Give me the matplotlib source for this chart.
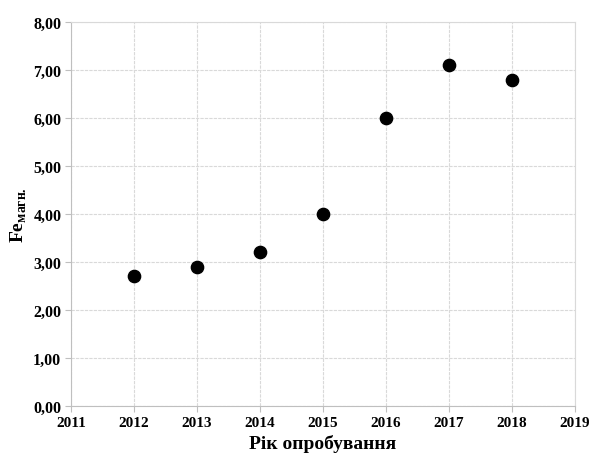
import matplotlib
matplotlib.use("Agg")
import matplotlib.pyplot as plt
from matplotlib.ticker import FuncFormatter, MultipleLocator

years = [2012, 2013, 2014, 2015, 2016, 2017, 2018]
fe_magn = [2.70, 2.90, 3.20, 4.00, 6.00, 7.10, 6.80]

plt.rcParams["font.family"] = ["Liberation Serif", "DejaVu Serif"]
plt.rcParams["font.weight"] = "bold"
plt.rcParams["mathtext.fontset"] = "custom"
plt.rcParams["mathtext.rm"] = "Liberation Serif"
plt.rcParams["mathtext.bf"] = "Liberation Serif:bold"

fig = plt.figure(figsize=(5.94, 4.64), dpi=100)
ax = fig.add_axes([0.1195, 0.1228, 0.8485, 0.8276])

ax.scatter(years, fe_magn, s=78, color="black", zorder=3)

ax.set_xlim(2011, 2019)
ax.set_ylim(0, 8)
ax.xaxis.set_major_locator(MultipleLocator(1))
ax.yaxis.set_major_locator(MultipleLocator(1))
ax.yaxis.set_major_formatter(FuncFormatter(lambda v, p: f"{v:.2f}".replace(".", ",")))
ax.xaxis.set_major_formatter(FuncFormatter(lambda v, p: f"{int(v)}"))

ax.grid(True, color="#d9d9d9", lw=0.8, ls=(0, (3, 1)))
ax.set_axisbelow(True)
for s in ["top", "right"]:
    ax.spines[s].set_color("#d9d9d9")
for s in ["left", "bottom"]:
    ax.spines[s].set_color("#bfbfbf")
ax.tick_params(length=4, color="#bfbfbf", pad=3)
ax.tick_params(axis="x", labelsize=11)
ax.tick_params(axis="y", labelsize=11.5)
for lab in ax.get_xticklabels() + ax.get_yticklabels():
    lab.set_fontweight("bold")

ax.set_xlabel("Рік опробування", fontsize=14, fontweight="bold", labelpad=4)
ax.set_ylabel(r"Fe$_{\mathbf{магн.}}$", fontsize=14, fontweight="bold", labelpad=3)

fig.savefig("out.png", dpi=100)
